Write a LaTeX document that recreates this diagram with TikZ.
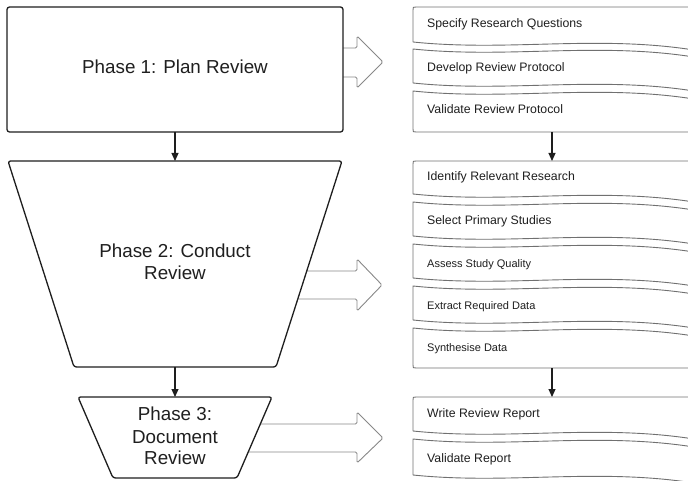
\documentclass[tikz,border=0pt]{standalone}
\usepackage{fontspec}
\setmainfont{Liberation Sans}
\usetikzlibrary{arrows.meta}
\definecolor{edge}{HTML}{1E1E1E}
\definecolor{docedge}{HTML}{707070}
\definecolor{hollow}{HTML}{888888}
\definecolor{txt}{HTML}{1F1F1F}
\begin{document}
\begin{tikzpicture}[x=1pt,y=-1pt,
  phase/.style={draw=edge,line width=1.3pt,fill=white,rounded corners=2.5pt,line join=round},
  docbox/.style={draw=docedge,line width=0.9pt,fill=white,line join=round},
  bigarrow/.style={draw=hollow,line width=0.9pt,fill=white,rounded corners=1.5pt},
  flow/.style={draw=edge,line width=1.1pt,-{Triangle[length=8pt,width=7pt]}},
  phasetext/.style={font=\fontsize{18.8}{22}\selectfont,text=txt,anchor=base,inner sep=0pt},
  steptext/.style={font=\fontsize{12.3}{14}\selectfont,text=txt,anchor=base west,inner sep=0pt},
  smalltext/.style={font=\fontsize{11}{13}\selectfont,text=txt,anchor=base west,inner sep=0pt}]

\useasboundingbox (0,0) rectangle (688,481);
\clip (0,0) rectangle (688,481);

% hollow block arrows leading from each phase to its steps
\draw[bigarrow] (300,48) -- (357,48) -- (357,36) -- (383,62) -- (357,88) -- (357,77) -- (300,77) -- cycle;
\draw[bigarrow] (250,271) -- (357,271) -- (357,259) -- (382,285) -- (357,311) -- (357,299) -- (250,299) -- cycle;
\draw[bigarrow] (220,424) -- (357,424) -- (357,412) -- (383,438) -- (357,463) -- (357,452) -- (220,452) -- cycle;

% phase shapes
\draw[phase] (7,7) rectangle (343,132);
\draw[phase] (8,161) -- (342,161) -- (276,367) -- (74,367) -- cycle;
\draw[phase] (78,397) -- (272,397) -- (237,478) -- (113,478) -- cycle;

\node[phasetext] (t1)  at (175,74)  {Phase 1: Plan Review};
\node[phasetext] (t2a) at (175,257) {Phase 2: Conduct};
\node[phasetext] (t2b) at (175,279) {Review};
\node[phasetext] (t3a) at (175,420) {Phase 3:};
\node[phasetext] (t3b) at (175,443) {Document};
\node[phasetext] (t3c) at (175,464) {Review};

% first step of each group: flat top, wavy bottom
\foreach \t/\b in {7/42, 161/194, 397/431} {
  \draw[docbox] (700,\t) -- (416,\t) .. controls (413,\t) .. (413,\t+3) -- (413,\b)
    .. controls (510,\b+10) and (600,\b-8) .. (700,\b+9) -- cycle;
}
% middle steps: wavy top and bottom
\foreach \t/\b in {49/83, 202/236, 244/278, 286/320, 439/475} {
  \draw[docbox] (700,\t+9) .. controls (600,\t-8) and (510,\t+10) .. (413,\t) -- (413,\b)
    .. controls (510,\b+10) and (600,\b-8) .. (700,\b+9) -- cycle;
}
% last step of a group: wavy top, flat bottom
\foreach \t/\b in {91/132, 328/368} {
  \draw[docbox] (700,\t+9) .. controls (600,\t-8) and (510,\t+10) .. (413,\t) -- (413,\b-3)
    .. controls (413,\b) .. (416,\b) -- (700,\b) -- cycle;
}

\node[steptext] (s1) at (427,28)  {Specify Research Questions};
\node[steptext] (s2) at (427,72)  {Develop Review Protocol};
\node[steptext] (s3) at (427,114) {Validate Review Protocol};
\node[steptext] (s4) at (427,181) {Identify Relevant Research};
\node[steptext] (s5) at (427,225) {Select Primary Studies};
\node[smalltext] (s6) at (427,267) {Assess Study Quality};
\node[smalltext] (s7) at (427,309) {Extract Required Data};
\node[smalltext] (s8) at (427,351) {Synthesise Data};
\node[steptext] (s9) at (427,417) {Write Review Report};
\node[steptext] (s10) at (427,462) {Validate Report};

% connector end points
\coordinate (p1bot) at (175,132);
\coordinate (p2top) at (175,161);
\coordinate (p2bot) at (175,367);
\coordinate (p3top) at (175,397);
\coordinate (g1bot) at (552,132);
\coordinate (g2top) at (552,161);
\coordinate (g2bot) at (552,368);
\coordinate (g3top) at (552,397);

\draw[flow] (p1bot) -- (p2top);
\draw[flow] (p2bot) -- (p3top);
\draw[flow] (g1bot) -- (g2top);
\draw[flow] (g2bot) -- (g3top);
\end{tikzpicture}
\end{document}
